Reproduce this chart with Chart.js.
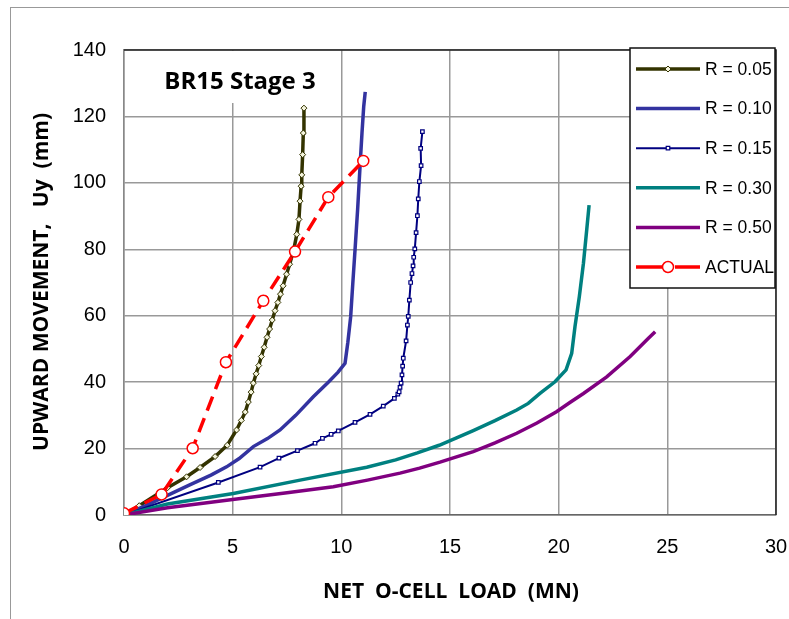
<!DOCTYPE html>
<html lang="en">
<head>
    <meta charset="UTF-8">
    <title>BR15 Stage 3 - Upward Movement vs Net O-Cell Load</title>
    <style>
        body {
            margin: 0;
            padding: 0;
            background-color: white;
        }
        .wrap {
            position: relative;
            width: 789px;
            height: 619px;
        }
        .frame {
            position: absolute;
            left: 10px;
            top: 7px;
            right: 0;
            bottom: 0;
            border-left: 1.5px solid #999;
            border-top: 1.5px solid #999;
        }
        canvas {
            position: absolute;
            left: 0;
            top: 0;
        }
    </style>
</head>
<body>
    <div class="wrap">
        <div class="frame"></div>
        <canvas id="loadChart" width="789" height="619"></canvas>
    </div>

    <script src="https://cdn.jsdelivr.net/npm/chart.js"></script>
    <script>
        // Data (load in MN, movement in mm)
        const loadR005 = [0, 0.7, 2.0, 2.88, 3.5, 4.19, 4.75, 5.18, 5.40, 5.58, 5.72, 5.85, 5.95, 6.08, 6.20, 6.32, 6.45, 6.58, 6.70, 6.82, 6.95, 7.08, 7.20, 7.32, 7.48, 7.62, 7.80, 7.95, 8.05, 8.10, 8.15, 8.18, 8.22, 8.25, 8.28];
        const moveR005 = [0, 2.8, 8.2, 11.5, 14.3, 17.6, 21.0, 25.6, 28.5, 31.0, 34.0, 37.0, 39.7, 42.5, 45.0, 47.7, 50.5, 53.5, 56.0, 58.7, 61.5, 64.0, 66.5, 69.0, 72.5, 75.5, 79.5, 84.5, 89.0, 94.5, 99.0, 102.4, 108.5, 115.0, 122.5];

        const loadR010 = [0, 1.0, 2.0, 3.0, 4.0, 4.72, 5.3, 5.95, 6.6, 7.18, 7.9, 8.71, 9.4, 9.85, 10.17, 10.3, 10.43, 10.53, 10.63, 10.75, 10.86, 10.95, 11.03, 11.1];
        const moveR010 = [0, 2.8, 5.9, 9.0, 12.0, 14.5, 17.0, 20.6, 23.0, 25.6, 30.0, 35.6, 40.0, 43.0, 45.7, 52.0, 59.7, 70.0, 79.8, 92.0, 104.9, 115.0, 123.0, 127.4];

        const loadR015 = [0, 4.34, 6.26, 7.13, 7.98, 8.79, 9.13, 9.53, 9.86, 10.63, 11.32, 11.93, 12.44, 12.6, 12.66, 12.7, 12.75, 12.79, 12.82, 12.85, 12.98, 13.04, 13.08, 13.13, 13.19, 13.25, 13.30, 13.33, 13.38, 13.44, 13.50, 13.54, 13.59, 13.67, 13.65, 13.73];
        const moveR015 = [0, 9.8, 14.4, 17.1, 19.4, 21.6, 23.1, 24.3, 25.3, 27.9, 30.3, 32.8, 35.1, 36.4, 37.1, 38.4, 39.7, 42.2, 44.8, 47.2, 52.4, 57.2, 59.8, 64.7, 70.0, 72.7, 75.0, 77.6, 80.1, 85.0, 90.1, 95.2, 100.4, 105.2, 110.4, 115.4];

        const loadR030 = [0, 2.0, 5.03, 8.1, 11.17, 12.5, 13.5, 14.5, 15.3, 16.07, 17.07, 18.07, 18.6, 19.14, 19.83, 20.34, 20.6, 20.75, 20.95, 21.14, 21.29, 21.4];
        const moveR030 = [0, 3.3, 6.5, 10.5, 14.4, 16.6, 18.7, 21.0, 23.2, 25.4, 28.4, 31.6, 33.6, 36.6, 40.1, 43.7, 48.7, 56.7, 65.7, 75.8, 85.8, 93.3];

        const loadR050 = [0, 2.0, 5.0, 7.5, 9.63, 11.2, 12.7, 13.6, 14.54, 15.3, 16.07, 17.07, 18.07, 19.0, 19.9, 20.5, 21.14, 22.21, 23.29, 24.13, 24.44];
        const moveR050 = [0, 2.2, 4.7, 6.7, 8.5, 10.5, 12.6, 14.1, 15.9, 17.5, 19.1, 21.7, 24.6, 27.7, 31.1, 33.8, 36.6, 41.6, 47.7, 53.2, 55.2];

        const loadActual = [0, 1.73, 3.16, 4.69, 6.41, 7.87, 9.4, 11.01];
        const moveActual = [0.5, 6.2, 20.1, 46.0, 64.5, 79.3, 95.7, 106.6];

        const seriesLabels = ['R = 0.05', 'R = 0.10', 'R = 0.15', 'R = 0.30', 'R = 0.50', 'ACTUAL'];
        const xTicks = [0, 5, 10, 15, 20, 25, 30];
        const yTicks = [0, 20, 40, 60, 80, 100, 120, 140];

        const chartTitle = 'BR15 Stage 3';
        const xTitle = 'NET  O-CELL  LOAD  (MN)';
        const yTitle = 'UPWARD MOVEMENT,   Uy  (mm)';

        function toPoints(xs, ys) {
            return xs.map((x, i) => ({ x: x, y: ys[i] }));
        }

        // Plot border, title box, axis titles and the boxed legend inside the plot
        const decorations = {
            id: 'decorations',
            beforeDatasetsDraw(chart) {
                const ctx = chart.ctx;
                const a = chart.chartArea;
                ctx.save();
                ctx.strokeStyle = '#222';
                ctx.lineWidth = 1.5;
                ctx.beginPath();
                ctx.moveTo(a.left, a.top);
                ctx.lineTo(a.right, a.top);
                ctx.lineTo(a.right, a.bottom);
                ctx.stroke();

                // title with white box
                ctx.fillStyle = 'white';
                ctx.fillRect(152, 51, 172, 52);
                ctx.fillStyle = 'black';
                ctx.font = 'bold 24px "Open Sans"';
                ctx.textAlign = 'center';
                ctx.textBaseline = 'middle';
                ctx.fillText(chartTitle, 240, 82);

                // axis titles
                ctx.font = 'bold 21px "Open Sans"';
                ctx.fillText(xTitle, 451, 592);
                ctx.translate(42, 282);
                ctx.rotate(-Math.PI / 2);
                ctx.fillText(yTitle, 0, 0);
                ctx.restore();
            },
            afterDatasetsDraw(chart) {
                const ctx = chart.ctx;
                const box = { left: 630, top: 48, right: 775, bottom: 288 };
                ctx.save();
                ctx.fillStyle = 'white';
                ctx.fillRect(box.left, box.top, box.right - box.left, box.bottom - box.top);
                ctx.strokeStyle = '#111';
                ctx.lineWidth = 1.5;
                ctx.strokeRect(box.left, box.top, box.right - box.left, box.bottom - box.top);

                chart.data.datasets.forEach((ds, i) => {
                    const y = 69 + i * 39.6;
                    ctx.strokeStyle = ds.borderColor;
                    ctx.lineWidth = ds.borderWidth;
                    ctx.setLineDash([]);
                    ctx.beginPath();
                    if (ds.borderDash && ds.borderDash.length) {
                        ctx.moveTo(636, y); ctx.lineTo(662, y);
                        ctx.moveTo(675, y); ctx.lineTo(700, y);
                    } else {
                        ctx.moveTo(636, y); ctx.lineTo(700, y);
                    }
                    ctx.stroke();
                    if (ds.pointRadius > 0) {
                        ctx.fillStyle = ds.pointBackgroundColor;
                        ctx.strokeStyle = ds.pointBorderColor;
                        ctx.lineWidth = ds.pointBorderWidth;
                        Chart.helpers.drawPoint(ctx, {
                            pointStyle: ds.pointStyle,
                            radius: ds.pointRadius,
                            borderWidth: ds.pointBorderWidth,
                            rotation: 0
                        }, 668, y);
                    }
                    ctx.fillStyle = 'black';
                    ctx.font = '17.5px "Liberation Sans"';
                    ctx.textAlign = 'left';
                    ctx.textBaseline = 'middle';
                    ctx.fillText(ds.label, 705, y + 1);
                });
                ctx.restore();
            }
        };

        const ctxLoad = document.getElementById('loadChart').getContext('2d');
        const loadChart = new Chart(ctxLoad, {
            type: 'scatter',
            data: {
                datasets: [{
                    label: seriesLabels[0],
                    data: toPoints(loadR005, moveR005),
                    borderColor: '#333300',
                    borderWidth: 3.5,
                    pointStyle: 'rectRot',
                    pointRadius: 3,
                    pointBackgroundColor: '#f4f4dc',
                    pointBorderColor: '#333300',
                    pointBorderWidth: 1,
                    order: 5
                }, {
                    label: seriesLabels[1],
                    data: toPoints(loadR010, moveR010),
                    borderColor: '#3333a0',
                    borderWidth: 3.5,
                    pointRadius: 0,
                    order: 4
                }, {
                    label: seriesLabels[2],
                    data: toPoints(loadR015, moveR015),
                    borderColor: '#000080',
                    borderWidth: 2,
                    pointStyle: 'rect',
                    pointRadius: 2.5,
                    pointBackgroundColor: '#ffffff',
                    pointBorderColor: '#000080',
                    pointBorderWidth: 1.2,
                    order: 3
                }, {
                    label: seriesLabels[3],
                    data: toPoints(loadR030, moveR030),
                    borderColor: '#008080',
                    borderWidth: 3.5,
                    pointRadius: 0,
                    order: 2
                }, {
                    label: seriesLabels[4],
                    data: toPoints(loadR050, moveR050),
                    borderColor: '#800080',
                    borderWidth: 3.5,
                    pointRadius: 0,
                    order: 1
                }, {
                    label: seriesLabels[5],
                    data: toPoints(loadActual, moveActual),
                    borderColor: '#ff0000',
                    borderWidth: 3.5,
                    borderDash: [15, 8],
                    pointStyle: 'circle',
                    pointRadius: 5.5,
                    pointBackgroundColor: '#ffffff',
                    pointBorderColor: '#ff0000',
                    pointBorderWidth: 1.5,
                    order: 0
                }]
            },
            options: {
                responsive: false,
                animation: false,
                showLine: true,
                layout: {
                    padding: { left: 0, top: 50, right: 13, bottom: 0 }
                },
                plugins: {
                    legend: { display: false },
                    tooltip: { enabled: false }
                },
                scales: {
                    x: {
                        type: 'linear',
                        min: 0,
                        max: 30,
                        afterFit: (scale) => {
                            scale.height = 104;
                            scale.paddingLeft = 0;
                            scale.paddingRight = 0;
                        },
                        afterBuildTicks: (scale) => { scale.ticks = xTicks.map(v => ({ value: v })); },
                        grid: { color: '#999', lineWidth: 1.5, drawTicks: false },
                        border: { color: '#666', width: 1.5 },
                        ticks: {
                            color: '#000',
                            padding: 20,
                            font: { family: '"Liberation Sans"', size: 20 }
                        }
                    },
                    y: {
                        type: 'linear',
                        min: 0,
                        max: 140,
                        afterFit: (scale) => {
                            scale.width = 124;
                            scale.paddingTop = 0;
                            scale.paddingBottom = 0;
                        },
                        afterBuildTicks: (scale) => { scale.ticks = yTicks.map(v => ({ value: v })); },
                        grid: { color: '#999', lineWidth: 1.5, drawTicks: false },
                        border: { color: '#888', width: 1.5 },
                        ticks: {
                            color: '#000',
                            padding: 18,
                            font: { family: '"Liberation Sans"', size: 20 }
                        }
                    }
                }
            },
            plugins: [decorations]
        });
    </script>
</body>
</html>
